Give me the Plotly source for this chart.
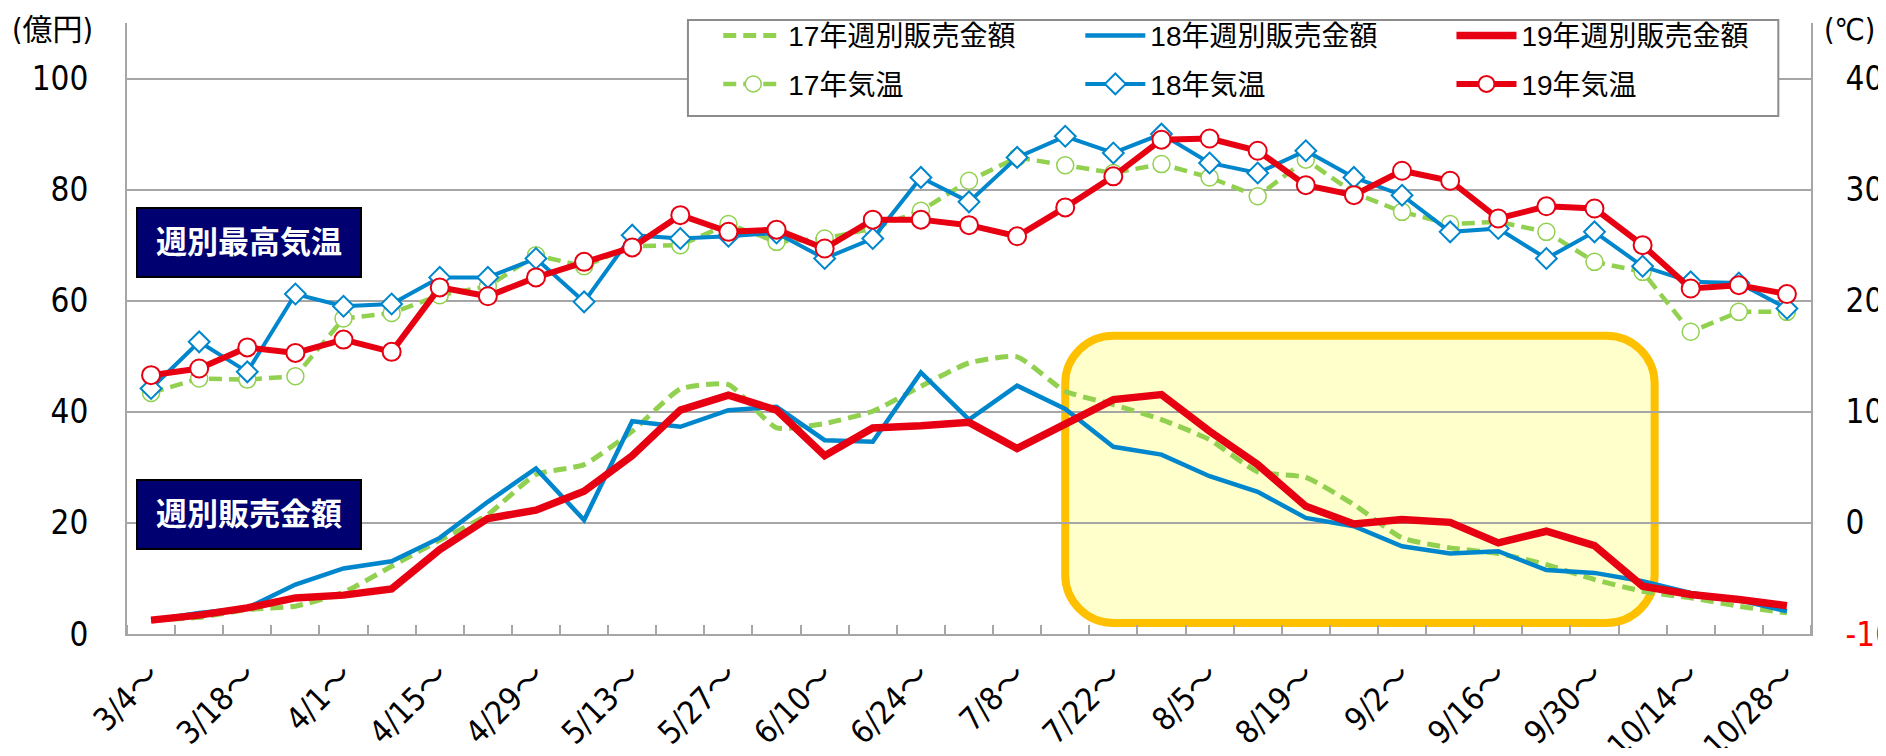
import plotly.graph_objects as go

# 週 (3/4〜10/28)
weeks = ["3/4", "3/11", "3/18", "3/25", "4/1", "4/8", "4/15", "4/22", "4/29",
         "5/6", "5/13", "5/20", "5/27", "6/3", "6/10", "6/17", "6/24", "7/1",
         "7/8", "7/15", "7/22", "7/29", "8/5", "8/12", "8/19", "8/26", "9/2",
         "9/9", "9/16", "9/23", "9/30", "10/7", "10/14", "10/21", "10/28"]

# 週別販売金額 (億円)
sales_17 = [2.5, 3.0, 4.4, 5.0, 7.5, 12.2, 16.9, 21.5, 28.7, 30.5, 36.5, 44.1,
            44.9, 37.1, 37.9, 40.1, 44.6, 48.8, 49.9, 43.7, 41.3, 38.6, 35.0,
            29.2, 28.2, 23.3, 17.3, 15.5, 14.5, 12.5, 9.8, 7.7, 6.5, 5.0, 3.8]
sales_18 = [2.5, 3.8, 4.7, 8.9, 11.8, 13.1, 17.3, 23.8, 29.8, 20.5, 38.3, 37.3,
            40.3, 40.9, 34.9, 34.6, 47.1, 38.6, 44.7, 40.5, 33.7, 32.3, 28.4,
            25.6, 20.9, 19.4, 15.8, 14.5, 14.9, 11.5, 11.0, 9.5, 7.4, 6.1, 4.1]
sales_19 = [2.5, 3.4, 4.7, 6.5, 7.0, 8.1, 15.2, 20.8, 22.3, 25.7, 32.1, 40.3,
            43.0, 40.3, 32.1, 37.1, 37.5, 38.1, 33.4, 37.8, 42.2, 43.1, 36.5,
            30.5, 23.0, 19.8, 20.6, 20.1, 16.4, 18.5, 15.9, 8.6, 7.1, 6.2, 5.1]

# 週別最高気温 (℃)
temp_17 = [11.7, 13.0, 12.9, 13.2, 18.4, 18.9, 20.5, 21.3, 24.1, 23.1, 24.9, 25.0,
           26.9, 25.3, 25.6, 26.5, 28.1, 30.8, 32.9, 32.2, 31.5, 32.3, 31.1,
           29.4, 32.7, 29.7, 28.0, 26.9, 27.1, 26.2, 23.5, 22.6, 17.2, 19.0, 19.0]
temp_18 = [12.1, 16.3, 13.6, 20.6, 19.5, 19.7, 22.1, 22.1, 23.8, 19.9, 25.9, 25.6,
           25.8, 26.1, 23.8, 25.6, 31.1, 28.9, 32.9, 34.8, 33.3, 35.0, 32.4,
           31.5, 33.5, 31.1, 29.5, 26.2, 26.5, 23.8, 26.2, 23.1, 21.7, 21.6, 19.3]
temp_19 = [13.3, 13.9, 15.8, 15.3, 16.5, 15.4, 21.2, 20.4, 22.1, 23.5, 24.8, 27.7,
           26.2, 26.4, 24.7, 27.3, 27.3, 26.8, 25.8, 28.4, 31.2, 34.5, 34.6,
           33.5, 30.4, 29.5, 31.7, 30.8, 27.4, 28.5, 28.3, 25.0, 21.1, 21.4, 20.6]

week_labels = [w + "〜" for w in weeks]
left_ticks = [0, 20, 40, 60, 80, 100]
right_ticks = [-10, 0, 10, 20, 30, 40]

GREEN = "#92D050"
BLUE = "#0086CC"
RED = "#E60012"
GRID = "#A6A6A6"
FONT = "Liberation Sans, Arial, Noto Sans CJK JP"
NARROW = "Liberation Sans Narrow, Arial Narrow, DejaVu Sans Condensed, Liberation Sans, Noto Sans CJK JP"

x = list(range(len(weeks)))

fig = go.Figure()

# 販売金額
fig.add_trace(go.Scatter(x=x, y=sales_17, mode="lines", name="17年週別販売金額",
                         legend="legend", legendgroup="a",
                         line=dict(color=GREEN, width=5, dash="13px,7px",
                                   shape="spline", smoothing=0.5)))
fig.add_trace(go.Scatter(x=x, y=sales_18, mode="lines", name="18年週別販売金額",
                         legend="legend2", legendgroup="b",
                         line=dict(color=BLUE, width=4.5)))
fig.add_trace(go.Scatter(x=x, y=sales_19, mode="lines", name="19年週別販売金額",
                         legend="legend3", legendgroup="c",
                         line=dict(color=RED, width=7.5)))

# 気温
fig.add_trace(go.Scatter(x=x, y=temp_17, mode="lines+markers", name="17年気温", yaxis="y2",
                         legend="legend", legendgroup="d",
                         line=dict(color=GREEN, width=4.5, dash="13px,7px"),
                         marker=dict(symbol="circle", size=17, color="white",
                                     line=dict(color=GREEN, width=1.5))))
fig.add_trace(go.Scatter(x=x, y=temp_18, mode="lines+markers", name="18年気温", yaxis="y2",
                         legend="legend2", legendgroup="e",
                         line=dict(color=BLUE, width=4),
                         marker=dict(symbol="diamond", size=16, color="white",
                                     line=dict(color=BLUE, width=2))))
fig.add_trace(go.Scatter(x=x, y=temp_19, mode="lines+markers", name="19年気温", yaxis="y2",
                         legend="legend3", legendgroup="f",
                         line=dict(color=RED, width=6),
                         marker=dict(symbol="circle", size=18, color="white",
                                     line=dict(color=RED, width=2))))

# 黄色の強調枠 (7/15〜10/7付近)
bx0, bx1, by0, by1 = 19.0, 31.25, 2.0, 53.7
rx, ry = 1.0, 8.6
k = 0.45
path = (f"M{bx0+rx},{by0} L{bx1-rx},{by0} "
        f"C{bx1-rx*k},{by0} {bx1},{by0+ry*k} {bx1},{by0+ry} "
        f"L{bx1},{by1-ry} "
        f"C{bx1},{by1-ry*k} {bx1-rx*k},{by1} {bx1-rx},{by1} "
        f"L{bx0+rx},{by1} "
        f"C{bx0+rx*k},{by1} {bx0},{by1-ry*k} {bx0},{by1-ry} "
        f"L{bx0},{by0+ry} "
        f"C{bx0},{by0+ry*k} {bx0+rx*k},{by0} {bx0+rx},{by0} Z")
fig.add_shape(type="path", path=path, xref="x", yref="y", layer="below",
              fillcolor="#FFFFCC", line=dict(color="#FFC000", width=8))

# 凡例の枠
fig.add_shape(type="rect", xref="paper", yref="paper", x0=0.3331, x1=0.9806,
              y0=0.8479, y1=1.0049, layer="above", fillcolor="white",
              line=dict(color="#8C8C8C", width=2))

# ラベル
for txt, yp in [("週別最高気温", 0.641), ("週別販売金額", 0.196)]:
    fig.add_annotation(text="<b>" + txt + "</b>", xref="paper", yref="paper",
                       x=0.0724, y=yp, xanchor="center", yanchor="middle",
                       showarrow=False, width=222, height=67,
                       bgcolor="#000070", bordercolor="black", borderwidth=2,
                       borderpad=0, font=dict(family=FONT, size=31, color="white"))

fig.add_annotation(text="(億円)", xref="paper", yref="paper", x=-0.044, y=0.99,
                   xanchor="center", yanchor="middle", showarrow=False,
                   font=dict(family=NARROW, size=30, color="black"))
fig.add_annotation(text="(℃)", xref="paper", yref="paper", x=1.023, y=0.99,
                   xanchor="center", yanchor="middle", showarrow=False,
                   font=dict(family=NARROW, size=30, color="black"))

legend_style = dict(orientation="v", y=1.02, xanchor="left", yanchor="top",
                    bgcolor="rgba(0,0,0,0)", borderwidth=0, itemwidth=60,
                    tracegroupgap=9, traceorder="grouped",
                    font=dict(family=FONT, size=28))

# ページの余白 (8px) を差し引いた大きさ
fig.update_layout(
    width=1870, height=740, autosize=False,
    margin=dict(l=119, r=67, t=15, b=114, autoexpand=False),
    plot_bgcolor="white", paper_bgcolor="white",
    font=dict(family=FONT, color="black"),
    showlegend=True,
    legend=dict(x=0.3511, **legend_style),
    legend2=dict(x=0.5661, **legend_style),
    legend3=dict(x=0.7865, **legend_style),
    xaxis=dict(range=[-0.5, len(weeks) - 0.5], tickvals=x[::2], ticktext=week_labels[::2],
               tickangle=-45, ticks="", showgrid=False, zeroline=False, automargin=False,
               showline=True, linecolor=GRID, linewidth=2,
               tickfont=dict(family=NARROW, size=32), ticklabelstandoff=8,
               minor=dict(tickvals=[i - 0.5 for i in range(len(weeks) + 1)],
                          ticks="inside", ticklen=9, tickcolor=GRID, tickwidth=1.5,
                          showgrid=False)),
    yaxis=dict(range=[0, 110], tickvals=left_ticks, showgrid=True, gridcolor=GRID,
               gridwidth=1.5, zeroline=False, showline=True, linecolor=GRID, linewidth=2,
               automargin=False, ticks="", tickfont=dict(family=NARROW, size=33),
               ticklabelstandoff=30),
    yaxis2=dict(range=[-10, 45], tickvals=right_ticks,
                ticktext=['<span style="color:red">-10</span>'] + [str(t) for t in right_ticks[1:]],
                overlaying="y", side="right", showgrid=False, zeroline=False,
                showline=True, linecolor=GRID, linewidth=2, ticks="", automargin=False,
                tickfont=dict(family=NARROW, size=33), ticklabelstandoff=26),
)

fig.write_html("out.html")
